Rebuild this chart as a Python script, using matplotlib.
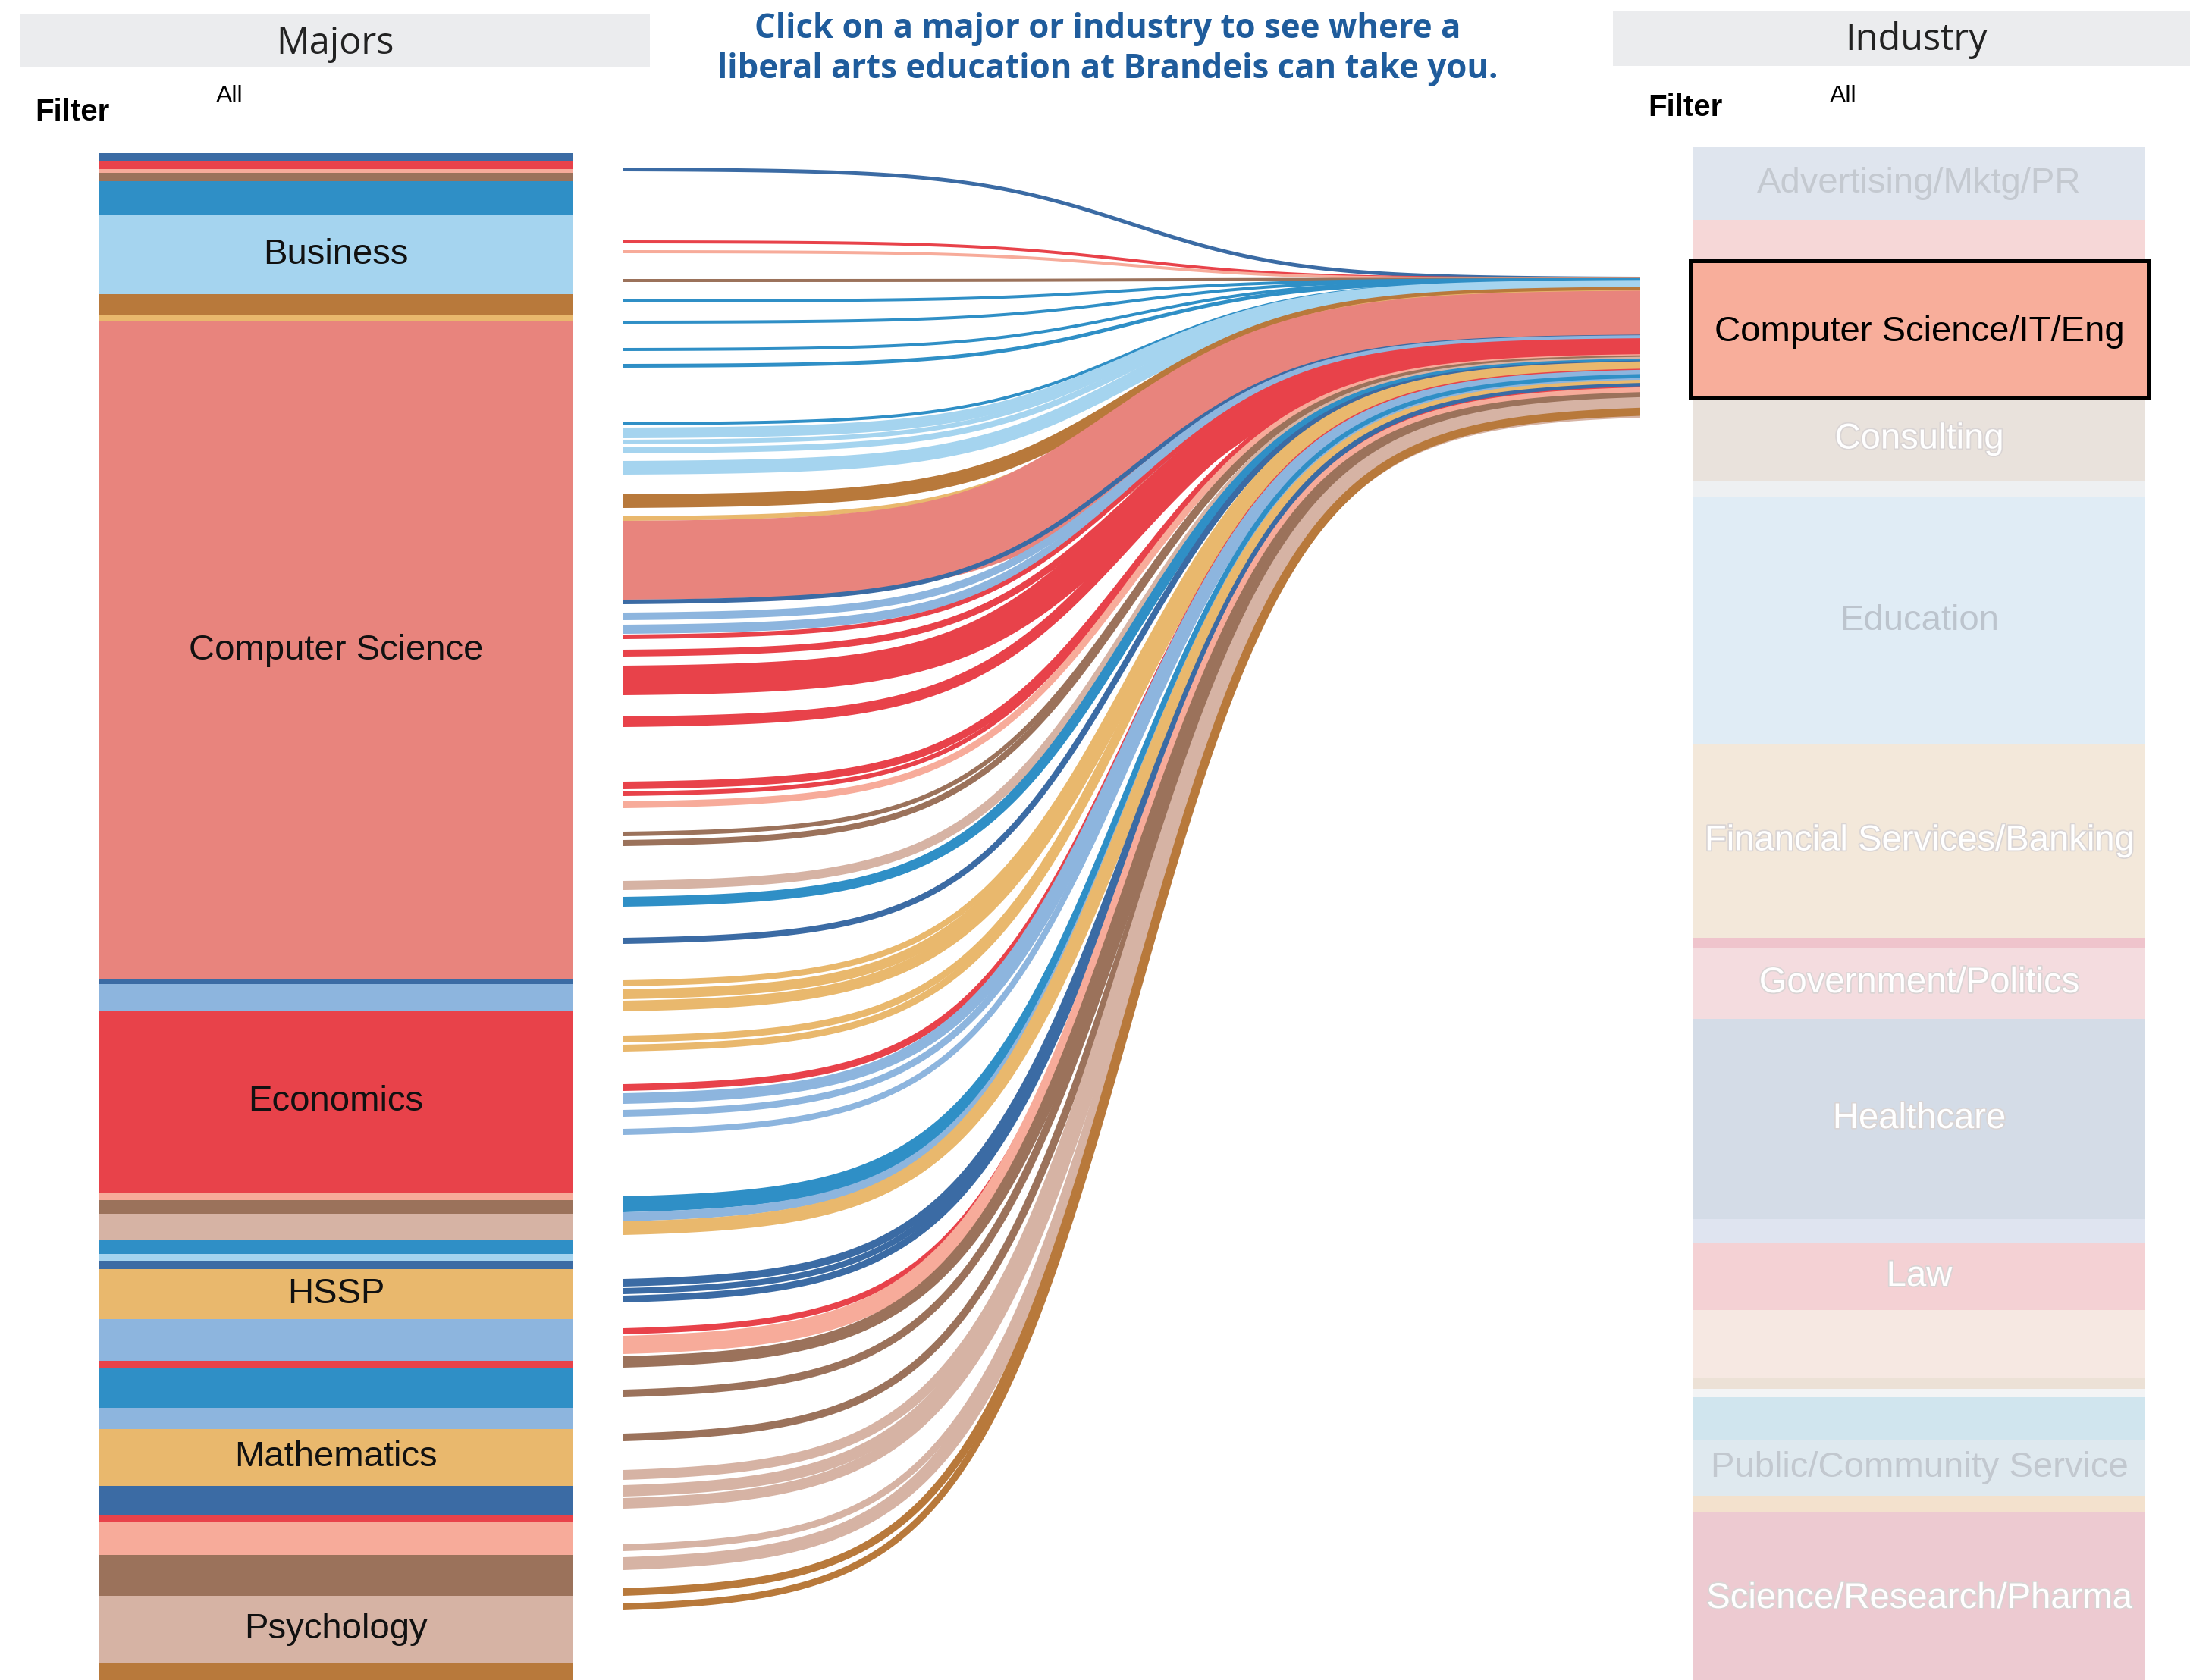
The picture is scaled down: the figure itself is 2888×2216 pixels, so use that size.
import numpy as np
import matplotlib.pyplot as plt
import matplotlib.patheffects as pe
from matplotlib.patches import Rectangle, Polygon

# colours of the majors
DARK_BLUE = '#3b6ba4'
RED = '#e8424a'
SALMON = '#f7ab9a'
BROWN = '#9b725b'
BLUE = '#2f8fc6'
LIGHT_BLUE = '#a5d4ef'
BROWN_ORANGE = '#b8793b'
LIGHT_ORANGE = '#e9b86d'
PINK = '#e8847d'
MED_BLUE = '#8db5de'
TAN = '#d6b3a4'

# majors, top to bottom (only the big ones are labelled)
major_names = ['', '', '', '', '', 'Business', '', '', 'Computer Science', '', '',
               'Economics', '', '', '', '', '', '', 'HSSP', '', '', '', '',
               'Mathematics', '', '', '', '', 'Psychology', '']
major_colors = [DARK_BLUE, RED, SALMON, BROWN, BLUE, LIGHT_BLUE, BROWN_ORANGE,
                LIGHT_ORANGE, PINK, DARK_BLUE, MED_BLUE, RED, SALMON, BROWN, TAN,
                BLUE, LIGHT_BLUE, DARK_BLUE, LIGHT_ORANGE, MED_BLUE, RED, BLUE,
                MED_BLUE, LIGHT_ORANGE, DARK_BLUE, RED, SALMON, BROWN, TAN,
                BROWN_ORANGE]
major_sizes = [10, 11, 5, 11, 44, 105, 27, 8, 869, 6, 35, 240, 10, 18, 34, 19, 9,
               11, 66, 55, 9, 53, 28, 75, 39, 8, 44, 54, 88, 60]

# strands flowing into Computer Science/IT/Eng: major, left position, width
flow_major = [0, 1, 2, 3, 4, 4, 4, 4, 4, 5, 5, 5, 5, 6, 7, 8, 9, 10, 10,
              11, 11, 11, 11, 11, 11, 12, 13, 13, 14, 15, 17, 18, 18, 18, 18, 18,
              20, 19, 19, 19, 21, 22, 23, 24, 24, 24, 25, 26, 27, 27, 27,
              28, 28, 28, 28, 28, 29, 29]
flow_start = [221, 317, 330, 368, 395, 423, 459, 480, 557, 564, 580, 590, 608,
              652, 681, 687, 791, 808, 824, 837, 857, 878, 945, 1031, 1044, 1057,
              1097, 1108, 1162, 1183, 1237, 1293, 1305, 1320, 1366, 1378, 1430,
              1442, 1464, 1489, 1578, 1599, 1611, 1687, 1699, 1709, 1752, 1762,
              1789, 1833, 1891, 1939, 1959, 1976, 2037, 2054, 2095, 2115]
flow_width = [5, 4, 4, 4, 4, 4, 4, 5, 4, 14, 6, 8, 18, 18, 6, 104, 6, 10, 12,
              6, 9, 39, 14, 10, 6, 9, 6, 8, 12, 13, 8, 8, 13, 14, 9, 9, 9,
              14, 9, 8, 21, 12, 18, 10, 8, 9, 8, 24, 15, 10, 10,
              13, 15, 14, 9, 17, 10, 9]

# industries, top to bottom (faded, except the selected one)
industry_names = ['Advertising/Mktg/PR', '', 'Computer Science/IT/Eng', 'Consulting', '',
                  'Education', 'Financial Services/Banking', '', 'Government/Politics',
                  'Healthcare', '', 'Law', '', '', '', '', 'Public/Community Service',
                  '', 'Science/Research/Pharma']
industry_colors = ['#dfe5ee', '#f6d7d7', '#f8ae9b', '#e9e2dc', '#eef0f2', '#e0ecf5',
                   '#f3e8da', '#efc4cc', '#f4dcdf', '#d4dce7', '#dfe4f0', '#f4d1d4',
                   '#f6e8e2', '#ece1d6', '#f3f4f5', '#d0e5ee', '#dfe9ef', '#f3e1cd',
                   '#edcad1']
industry_text = ['#c4c9d0', '', 'black', 'white', '', '#bcc4cd', 'white', '', 'white',
                 'white', '', 'white', '', '', '', '', '#c2c8cf', '', 'white']
industry_sizes = [96, 54, 181, 109, 22, 326, 255, 13, 94, 264, 32, 88, 89, 15, 11, 57,
                  73, 21, 230]
selected = 'Computer Science/IT/Eng'

fig = plt.figure(figsize=(28.88, 22.16), dpi=100)
ax = fig.add_axes([0, 0, 1, 1])
ax.set_xlim(0, 2888)
ax.set_ylim(2216, 0)
ax.axis('off')

label_font = 'Liberation Sans'

# headers
ax.add_patch(Rectangle((26, 18), 831, 70, color='#ebecee', lw=0))
ax.add_patch(Rectangle((2127, 15), 761, 72, color='#ebecee', lw=0))
ax.text(442, 58, 'Majors', ha='center', va='center', fontsize=35, family='Open Sans',
        color='#222222')
ax.text(2527, 53, 'Industry', ha='center', va='center', fontsize=35, family='Open Sans',
        color='#222222')
ax.text(46, 148, 'Filter', ha='left', va='center', fontsize=29, family=label_font,
        fontweight='bold')
ax.text(2173, 142, 'Filter', ha='left', va='center', fontsize=29, family=label_font,
        fontweight='bold')
ax.text(285, 127, 'All', ha='left', va='center', fontsize=23, family=label_font)
ax.text(2413, 127, 'All', ha='left', va='center', fontsize=23, family=label_font)
ax.text(1461, 65, 'Click on a major or industry to see where a\n'
        'liberal arts education at Brandeis can take you.',
        ha='center', va='center', fontsize=31.5, family='Open Sans', fontweight='bold',
        color='#1f5c9c', linespacing=1.25)

# majors bar
bar_x, bar_w, y = 131, 624, 202
for name, col, size in zip(major_names, major_colors, major_sizes):
    ax.add_patch(Rectangle((bar_x, y), bar_w, size, color=col, lw=0))
    if name:
        ax.text(bar_x + bar_w / 2, y + size / 2, name, ha='center', va='center',
                fontsize=34, family=label_font, color='#111111')
    y += size

# flows: sigmoid ribbons of constant thickness that pile up on the right
x_left, x_right = 822, 2163
right_top, right_h = 365, 176
xs = np.linspace(x_left, x_right, 600)
s = 1 / (1 + np.exp(-12 * ((xs - x_left) / (x_right - x_left) - 0.5)))
s = (s - s[0]) / (s[-1] - s[0])

w_left = np.array(flow_width, dtype=float)
share = w_left ** 1.5
share = share / share.sum() * right_h
end_start = right_top + np.concatenate([[0], np.cumsum(share)[:-1]])

for m, y0, w, y1 in zip(flow_major, flow_start, w_left, end_start):
    c0, c1 = y0 + w / 2, y1 + w / 2
    yc = c0 + (c1 - c0) * s
    dy = np.gradient(yc, xs)
    norm = np.sqrt(1 + dy ** 2)
    h = w / 2
    upper = np.column_stack([xs + h * dy / norm, yc - h / norm])
    lower = np.column_stack([xs - h * dy / norm, yc + h / norm])
    upper[0, 0] = lower[0, 0] = x_left
    upper[-1, 0] = lower[-1, 0] = x_right
    ax.add_patch(Polygon(np.vstack([upper, lower[::-1]]), closed=True,
                         facecolor=major_colors[m], lw=0))

# industry bar
ind_x, ind_w, y = 2233, 596, 194
for name, col, tcol, size in zip(industry_names, industry_colors, industry_text, industry_sizes):
    if name == selected:
        ax.add_patch(Rectangle((ind_x - 4, y), ind_w + 8, size, facecolor=col,
                               edgecolor='black', lw=3.6, zorder=3))
        ax.text(ind_x + ind_w / 2, y + size / 2 + 3, name, ha='center', va='center',
                fontsize=34, family=label_font, color=tcol, zorder=4)
    else:
        rect = Rectangle((ind_x, y), ind_w, size, color=col, lw=0)
        ax.add_patch(rect)
        if name:
            t = ax.text(ind_x + ind_w / 2, y + size / 2, name, ha='center', va='center',
                        fontsize=34, family=label_font, color=tcol)
            if tcol == 'white':
                t.set_path_effects([pe.withStroke(linewidth=2.5, foreground='#d9d4d4')])
            t.set_clip_path(rect)
    y += size

fig.savefig('out.png', dpi=100, facecolor='white')
